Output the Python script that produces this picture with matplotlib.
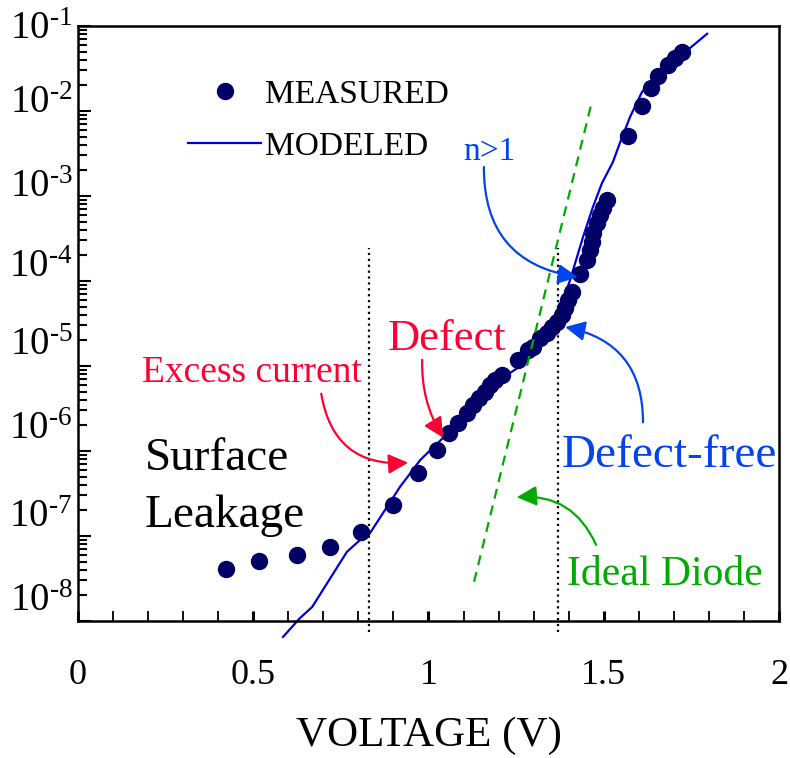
import numpy as np
import matplotlib.pyplot as plt
from matplotlib.ticker import MultipleLocator, LogLocator, NullFormatter
from matplotlib.transforms import ScaledTranslation

plt.rcParams['font.family'] = ['Liberation Serif', 'DejaVu Serif']
plt.rcParams['mathtext.fontset'] = 'custom'
plt.rcParams['mathtext.rm'] = 'Liberation Serif'
plt.rcParams['mathtext.default'] = 'regular'

# measured I-V points
v_meas = [0.422, 0.516, 0.625, 0.719, 0.807, 0.899, 0.970, 1.024, 1.058, 1.084,
          1.110, 1.127, 1.144, 1.161, 1.175, 1.190, 1.210, 1.255, 1.284, 1.298,
          1.318, 1.338, 1.352, 1.367, 1.381, 1.389, 1.398, 1.409, 1.432, 1.452,
          1.461, 1.466, 1.469, 1.481, 1.489, 1.498, 1.509, 1.569, 1.609, 1.635,
          1.655, 1.683, 1.703, 1.723]
i_meas = [4.1e-8, 5.1e-8, 6.0e-8, 7.4e-8, 1.11e-7, 2.3e-7, 5.5e-7, 1.03e-6, 1.63e-6, 2.13e-6,
          2.8e-6, 3.5e-6, 4.2e-6, 4.9e-6, 6.0e-6, 6.8e-6, 7.8e-6, 1.18e-5, 1.54e-5, 1.67e-5,
          2.13e-5, 2.44e-5, 2.88e-5, 3.3e-5, 4.0e-5, 4.8e-5, 6.0e-5, 7.4e-5, 1.21e-4, 1.77e-4,
          2.32e-4, 2.88e-4, 3.7e-4, 4.8e-4, 6.0e-4, 7.2e-4, 9.0e-4, 5.1e-3, 1.15e-2, 1.87e-2,
          2.58e-2, 3.5e-2, 4.2e-2, 4.9e-2]

# model curve
v_model = [0.585, 0.633, 0.668, 0.767, 0.805, 0.833, 0.919, 0.976, 1.041, 1.118,
           1.175, 1.233, 1.275, 1.332, 1.375, 1.404, 1.441, 1.469, 1.495, 1.526,
           1.546, 1.575, 1.609, 1.660, 1.746, 1.795]
i_model = [6.5e-9, 1.08e-8, 1.46e-8, 6.5e-8, 9.0e-8, 1.08e-7, 3.8e-7, 7.8e-7, 1.42e-6, 3.0e-6,
           5.2e-6, 8.3e-6, 1.08e-5, 2.02e-5, 4.6e-5, 1.03e-4, 3.3e-4, 7.4e-4, 1.42e-3, 2.5e-3,
           4.2e-3, 8.5e-3, 1.67e-2, 3.0e-2, 5.5e-2, 8.1e-2]

# ideal diode (n=1) reference line
v_ideal = [1.130, 1.466]
i_ideal = [2.9e-8, 1.28e-2]

# boundaries between regions
v_bounds = [0.830, 1.370]
bound_top = 2.45e-4
bound_bottom = 7.4e-9

navy = '#000066'
blue = '#0000dd'
lblue = '#0044ee'
red = '#ff0033'
green = '#00aa00'

fig = plt.figure(figsize=(7.9, 7.58), dpi=100)
ax = fig.add_axes([78 / 790, 1 - 621 / 758, 701 / 790, 595 / 758])

ax.plot(v_model, i_model, color=blue, lw=1.6, clip_on=False, label='MODELED', zorder=2)
ax.plot(v_meas, i_meas, 'o', color=navy, ms=11.5, ls='none', label='MEASURED', zorder=3)
ideal, = ax.plot(v_ideal, i_ideal, color=green, lw=1.6, zorder=4)
ideal.set_dashes((4.5, 3.2))
ax.vlines(v_bounds, bound_bottom, bound_top, colors='black', linestyles=':', lw=1.6,
          clip_on=False, zorder=4)

ax.set_yscale('log')
ax.set_xlim(0, 2)
ax.set_ylim(1e-8, 1e-1)

ax.xaxis.set_minor_locator(MultipleLocator(0.1))
ax.set_xticks([0, 0.5, 1, 1.5, 2])
ax.set_xticklabels(['0', '0.5', '1', '1.5', '2'])
decades = [1e-8, 1e-7, 1e-6, 1e-5, 1e-4, 1e-3, 1e-2, 1e-1]
ax.set_yticks(decades)
ax.set_yticklabels([r'$10^{\text{-%d}}$' % k for k in range(8, 0, -1)])
ax.yaxis.set_minor_locator(LogLocator(base=10, subs=np.arange(2, 10), numticks=20))
ax.yaxis.set_minor_formatter(NullFormatter())

ax.tick_params(axis='both', which='both', direction='in', top=False, right=False)
ax.tick_params(axis='y', which='major', length=9.5, width=1.5, labelsize=28, pad=4)
ax.tick_params(axis='y', which='minor', length=6.5, width=1.5)
ax.tick_params(axis='x', which='major', length=7, width=2.2, labelsize=26, pad=27)
ax.tick_params(axis='x', which='minor', length=7, width=1.3)
for s in ax.spines.values():
    s.set_linewidth(1.8)

# the decade labels sit a little above their ticks
lift = [17, 16.5, 19, 18, 13, 9.5, 8.5, 0.7]
for lab, dy in zip(ax.get_yticklabels(), lift):
    lab.set_transform(lab.get_transform() + ScaledTranslation(0, dy / 72, fig.dpi_scale_trans))

ax.set_xlabel('VOLTAGE (V)', fontsize=31, labelpad=18)

leg = ax.legend(handles=ax.get_lines()[1::-1], loc='upper left', bbox_to_anchor=(0.157, 0.91),
                frameon=False, fontsize=24, handlelength=2.2, handletextpad=0.1,
                labelspacing=0.63, borderpad=0, borderaxespad=0, numpoints=1)

# region labels
ax.text(0.0956, 0.254, 'Surface', fontsize=34, transform=ax.transAxes, va='baseline')
ax.text(0.0956, 0.158, 'Leakage', fontsize=34, transform=ax.transAxes, va='baseline')
ax.text(0.0913, 0.402, 'Excess current', fontsize=27, color=red, transform=ax.transAxes, va='baseline')
ax.text(0.442, 0.455, 'Defect', fontsize=32, color=red, transform=ax.transAxes, va='baseline')
ax.text(0.549, 0.775, 'n>1', fontsize=24, color=lblue, transform=ax.transAxes, va='baseline')
ax.text(0.690, 0.259, 'Defect-free', fontsize=34, color=lblue, transform=ax.transAxes, va='baseline')
ax.text(0.698, 0.0605, 'Ideal Diode', fontsize=30, color=green, transform=ax.transAxes, va='baseline')

arrows = [
    ((0.713, 0.578), (0.579, 0.763), lblue, 0.43),
    ((0.521, 0.308), (0.491, 0.439), red, 0.15),
    ((0.471, 0.266), (0.347, 0.382), red, 0.45),
    ((0.695, 0.494), (0.806, 0.334), lblue, 0.41),
    ((0.626, 0.208), (0.739, 0.128), green, 0.35),
]
for tip, tail, c, rad in arrows:
    ax.annotate('', xy=tip, xytext=tail, xycoords='axes fraction', textcoords='axes fraction',
                arrowprops=dict(arrowstyle='-|>', color=c, lw=1.6, mutation_scale=30,
                                shrinkA=0, shrinkB=0,
                                connectionstyle='arc3,rad=%.2f' % rad), zorder=5)

fig.savefig('out.png', dpi=100)
